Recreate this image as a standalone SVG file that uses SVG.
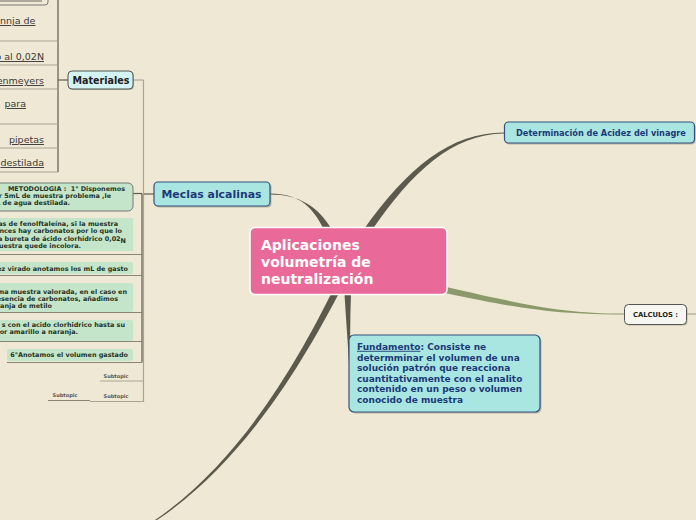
<svg xmlns="http://www.w3.org/2000/svg" width="696" height="520" viewBox="0 0 696 520">
<style>
.bg{fill:#efe8d4}
.main{fill:#5b5a4c}
.thin{fill:none;stroke:#5e5c4e;stroke-width:1.2}
.light{fill:none;stroke:#aaa493;stroke-width:1.2}
.sep{fill:none;stroke:#8a8575;stroke-width:1}
.blue{fill:#a9e6e1;stroke:#33507e;stroke-width:1.2}
.shadow{fill:#8e8a7c;opacity:.55}
.btxt{font-family:"DejaVu Sans",Verdana,sans-serif;font-weight:bold;fill:#1b3a78}
.green{fill:#c4e5c9}
.gtxt{font-family:"DejaVu Sans",Verdana,sans-serif;font-weight:bold;font-size:6.45px;fill:#263326}
.mtxt{font-family:"DejaVu Sans",Verdana,sans-serif;font-size:9.5px;fill:#3a3a3a;text-decoration:underline}
.sub{font-family:"DejaVu Sans",Verdana,sans-serif;font-weight:bold;font-size:5px;fill:#555}
</style>
<rect class="bg" x="0" y="0" width="696" height="520"/>

<g id="connectors">
  <path class="main" d="M270,193.6 C300,193.6 313,208 323.5,229 L331,228 C318,207 300,194.4 270,194.4 Z"/>
  <path class="main" d="M364,229 C408,168 450,132.6 504,132.6 L504,133.4 C452,134 412,172 372,230 Z"/>
  <path fill="#8a9a6a" d="M446,287 C522,304 560,313.6 624,313.6 L624,314.4 C560,315 520,309 445,293 Z"/>
  <path class="main" d="M344.5,294 C346,320 348,345 349.5,372 L350.5,372 C350,345 350,320 351,294 Z"/>
  <path class="main" d="M331,294 C297,362 240,462 155,520 L157,520 C242,464 302,364 338,295 Z"/>
  <line class="light" x1="686" y1="314" x2="696" y2="314"/>

  <line class="thin" x1="142.5" y1="194" x2="154" y2="194"/>
  <line class="light" x1="133" y1="80" x2="143.5" y2="80"/>
  <line class="light" x1="143.5" y1="80" x2="143.5" y2="402"/>
  <line class="thin" x1="142" y1="194" x2="142" y2="362.5"/>
  <line class="thin" x1="133" y1="193.5" x2="142" y2="193.5"/>
  <line class="sep" x1="0" y1="254.5" x2="142" y2="254.5"/>
  <line class="sep" x1="0" y1="275.5" x2="142" y2="275.5"/>
  <line class="sep" x1="0" y1="312.5" x2="142" y2="312.5"/>
  <line class="sep" x1="0" y1="341.5" x2="142" y2="341.5"/>
  <line class="sep" x1="7" y1="362.5" x2="142" y2="362.5"/>
  <line class="light" x1="100" y1="381" x2="143.5" y2="381" stroke-width="1.6"/>
  <line class="light" x1="90" y1="401.5" x2="143.5" y2="401.5" stroke-width="1.6"/>
  <line class="sep" x1="48" y1="400.5" x2="90" y2="400.5"/>

  <line class="thin" x1="58" y1="80" x2="68" y2="80"/>
  <line class="thin" x1="58" y1="0" x2="58" y2="172"/>
  <line class="light" x1="0" y1="41" x2="58" y2="41"/>
  <line class="light" x1="0" y1="65" x2="58" y2="65"/>
  <line class="light" x1="0" y1="89" x2="58" y2="89"/>
  <line class="light" x1="0" y1="124" x2="58" y2="124"/>
  <line class="light" x1="0" y1="148" x2="58" y2="148"/>
  <line class="light" x1="0" y1="172" x2="58" y2="172"/>
</g>

<g id="central">
  <rect x="250" y="227.5" width="197" height="67" rx="5" fill="#e96a98" stroke="#ffffff" stroke-width="1.5"/>
  <text x="261" y="249.5" font-family="DejaVu Sans, Verdana, sans-serif" font-weight="bold" font-size="14" fill="#ffffff">Aplicaciones</text>
  <text x="261" y="266.5" font-family="DejaVu Sans, Verdana, sans-serif" font-weight="bold" font-size="14" fill="#ffffff">volumetría de</text>
  <text x="261" y="283.5" font-family="DejaVu Sans, Verdana, sans-serif" font-weight="bold" font-size="14" fill="#ffffff">neutralización</text>
</g>

<g id="meclas">
  <rect class="shadow" x="155.5" y="183.5" width="116" height="24" rx="4"/>
  <rect class="blue" x="154" y="182" width="116" height="24" rx="4"/>
  <text class="btxt" x="211.5" y="198.3" font-size="10.9" text-anchor="middle">Meclas alcalinas</text>
</g>

<g id="determinacion">
  <rect class="shadow" x="505.5" y="123.5" width="190" height="21" rx="4"/>
  <rect class="blue" x="504.5" y="122" width="190" height="21" rx="4"/>
  <text class="btxt" x="601" y="135.6" font-size="8.2" text-anchor="middle">Determinación de Acidez del vinagre</text>
</g>

<g id="calculos">
  <rect class="shadow" x="625.5" y="305.5" width="62" height="20" rx="4"/>
  <rect x="624.5" y="304.5" width="62" height="20" rx="4" fill="#f8f6f0" stroke="#555" stroke-width="1"/>
  <text x="655.5" y="317.3" font-family="DejaVu Sans, Verdana, sans-serif" font-weight="bold" font-size="6.8" fill="#222" text-anchor="middle">CALCULOS :</text>
</g>

<g id="fundamento">
  <rect class="shadow" x="350.5" y="336.5" width="191" height="77" rx="5"/>
  <rect class="blue" x="349" y="335" width="191" height="77" rx="5"/>
  <g class="btxt" font-size="9">
    <text x="357" y="349.8"><tspan text-decoration="underline">Fundamento</tspan>: Consiste ne</text>
    <text x="357" y="360.6">determminar el volumen de una</text>
    <text x="357" y="371.2">solución patrón que reacciona</text>
    <text x="357" y="381.8">cuantitativamente con el analito</text>
    <text x="357" y="392.4">contenido en un peso o volumen</text>
    <text x="357" y="403.2">conocido de muestra</text>
  </g>
</g>

<g id="materiales">
  <rect class="shadow" x="69" y="72" width="65" height="18" rx="4"/>
  <rect x="68" y="71" width="65" height="18" rx="4" fill="#d4f3f3" stroke="#555" stroke-width="1"/>
  <text x="101" y="84" font-family="DejaVu Sans, Verdana, sans-serif" font-weight="bold" font-size="9.6" fill="#222" text-anchor="middle">Materiales</text>
</g>

<g id="mat-items">
  <rect x="-10" y="-15" width="58" height="20" rx="3" fill="#efe8d4" stroke="#777" stroke-width="1"/>
  <line x1="0" y1="1" x2="42" y2="1" stroke="#444" stroke-width="0.8"/>
  <text class="mtxt" x="0" y="24">nnja de </text>
  <text class="mtxt" x="44" y="60" text-anchor="end">o al 0,02N</text>
  <text class="mtxt" x="44" y="84" text-anchor="end">enmeyers</text>
  <text class="mtxt" x="26" y="107" text-anchor="end">para </text>
  <text class="mtxt" x="44" y="143" text-anchor="end">pipetas</text>
  <text class="mtxt" x="44" y="166" text-anchor="end">destilada</text>
</g>

<g id="met1">
  <rect x="-10" y="183" width="143" height="28" rx="5" fill="#c4e5c9" stroke="#777" stroke-width="1"/>
  <text class="gtxt" x="125" y="191" text-anchor="end" xml:space="preserve">r:     METODOLOGIA :  1° Disponemos</text>
  <text class="gtxt" x="111" y="198" text-anchor="end">yer 5mL de muestra problema ,le</text>
  <text class="gtxt" x="70" y="205" text-anchor="end">nL de agua destilada.</text>
</g>

<g id="met2">
  <rect class="green" x="-5" y="218" width="138" height="33"/>
  <text class="gtxt" x="118" y="226" text-anchor="end">otas de fenolftaleína, si la muestra</text>
  <text class="gtxt" x="122" y="233" text-anchor="end">ntonces hay carbonatos por lo que lo</text>
  <text class="gtxt" x="126" y="241" text-anchor="end">n la bureta de ácido clorhídrico 0,02<tspan dy="1.5">N</tspan></text>
  <text class="gtxt" x="81" y="248" text-anchor="end">muestra quede incolora.</text>
</g>

<g id="met3">
  <rect class="green" x="-5" y="262" width="138" height="12" rx="2"/>
  <text class="gtxt" x="128" y="270.5" text-anchor="end">ez virado anotamos los mL de gasto</text>
</g>

<g id="met4">
  <rect class="green" x="-5" y="283" width="138" height="29" rx="2"/>
  <text class="gtxt" x="127" y="293.5" text-anchor="end">ma muestra valorada, en el caso en</text>
  <text class="gtxt" x="118" y="300.5" text-anchor="end">esencia de carbonatos, añadimos</text>
  <text class="gtxt" x="52" y="307.5" text-anchor="end">anja de metilo</text>
</g>

<g id="met5">
  <rect class="green" x="-5" y="320" width="138" height="21" rx="2"/>
  <text class="gtxt" x="125" y="327" text-anchor="end">s con el acido clorhidrico hasta su</text>
  <text class="gtxt" x="78" y="334" text-anchor="end">or amarillo a naranja.</text>
</g>

<g id="met6">
  <rect class="green" x="7" y="349" width="126" height="12" rx="2"/>
  <text class="gtxt" x="128" y="357" text-anchor="end">6°Anotamos el volumen gastado</text>
</g>

<g id="subtopic1"><text class="sub" x="116" y="378" text-anchor="middle">Subtopic</text></g>
<g id="subtopic2"><text class="sub" x="116" y="398" text-anchor="middle">Subtopic</text></g>
<g id="subtopic3"><text class="sub" x="65" y="396.5" text-anchor="middle">Subtopic</text></g>
</svg>
